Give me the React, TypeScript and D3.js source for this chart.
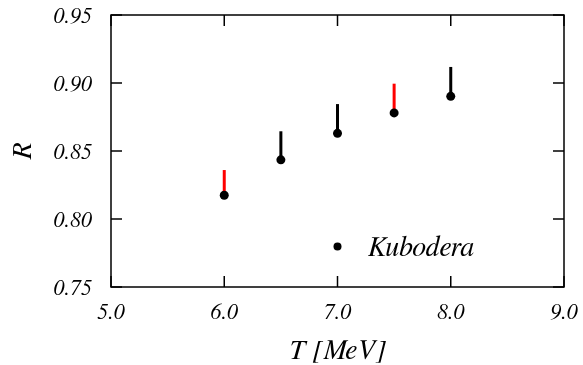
import React from "react";
import * as d3 from "d3";

const temperatures = [6.0, 6.5, 7.0, 7.5, 8.0];
const ratios = [0.8175, 0.8435, 0.863, 0.878, 0.8902];
const upperBounds = [0.836, 0.8645, 0.8845, 0.8995, 0.9118];
const barColors = ["#ff0000", "#000000", "#000000", "#ff0000", "#000000"];
const xTicks = [5.0, 6.0, 7.0, 8.0, 9.0];
const yTicks = [0.75, 0.8, 0.85, 0.9, 0.95];
const legendLabel = "Kubodera";
const xTitle = "T [MeV]";
const yTitle = "R";

const W = 583;
const H = 365;
const M = { left: 111, right: 564, top: 15, bottom: 287 };
const FONT = "FreeSerif";

export default function App() {
  const x = d3.scaleLinear().domain([5, 9]).range([M.left, M.right]);
  const y = d3.scaleLinear().domain([0.75, 0.95]).range([M.bottom, M.top]);
  const tickLen = 11;

  return (
    <svg width={W} height={H} style={{ position: "fixed", left: 0, top: 0 }}>
      {xTicks.map((t, i) => (
        <g key={"xt" + i}>
          <line x1={x(t)} x2={x(t)} y1={M.bottom} y2={M.bottom - tickLen} stroke="#000" strokeWidth={1.5} />
          <line x1={x(t)} x2={x(t)} y1={M.top} y2={M.top + tickLen} stroke="#000" strokeWidth={1.5} />
          <text x={x(t)} y={319} textAnchor="middle" fontFamily={FONT} fontStyle="italic" fontSize={22}>
            {t.toFixed(1)}
          </text>
        </g>
      ))}
      {yTicks.map((t, i) => (
        <g key={"yt" + i}>
          <line x1={M.left} x2={M.left + tickLen} y1={y(t)} y2={y(t)} stroke="#000" strokeWidth={1.5} />
          <line x1={M.right} x2={M.right - tickLen} y1={y(t)} y2={y(t)} stroke="#000" strokeWidth={1.5} />
          <text x={92} y={y(t) + 7.5} textAnchor="end" fontFamily={FONT} fontStyle="italic" fontSize={22}>
            {t.toFixed(2)}
          </text>
        </g>
      ))}
      <rect
        x={M.left}
        y={M.top}
        width={M.right - M.left}
        height={M.bottom - M.top}
        fill="none"
        stroke="#000"
        strokeWidth={1.5}
      />
      {temperatures.map((t, i) => (
        <line
          key={"e" + i}
          x1={x(t)}
          x2={x(t)}
          y1={y(ratios[i])}
          y2={y(upperBounds[i])}
          stroke={barColors[i]}
          strokeWidth={3}
        />
      ))}
      {temperatures.map((t, i) => (
        <circle key={"p" + i} cx={x(t)} cy={y(ratios[i])} r={4.5} fill="#000" />
      ))}
      <circle cx={x(7.0)} cy={246.5} r={4} fill="#000" />
      <text x={368} y={256} fontFamily={FONT} fontStyle="italic" fontSize={28}>
        {legendLabel}
      </text>
      <text x={x(7.0)} y={359} textAnchor="middle" fontFamily={FONT} fontStyle="italic" fontSize={28}>
        {xTitle}
      </text>
      <text
        transform={`translate(31, ${y(0.85)}) rotate(-90)`}
        textAnchor="middle"
        fontFamily={FONT}
        fontStyle="italic"
        fontSize={28}
      >
        {yTitle}
      </text>
    </svg>
  );
}
